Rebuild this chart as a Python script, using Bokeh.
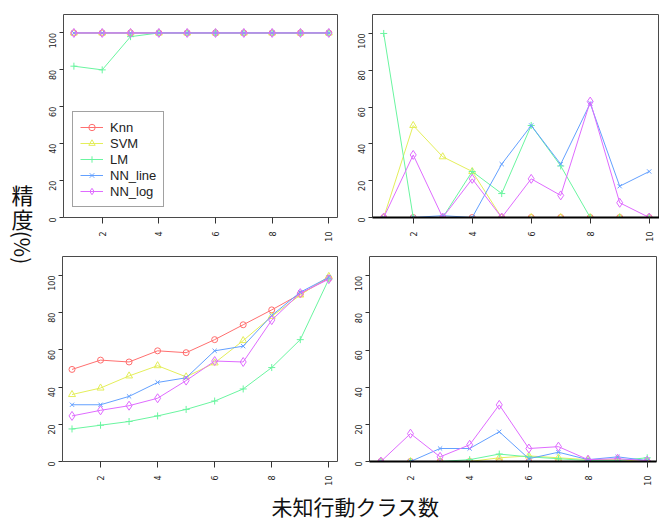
import math
from bokeh.plotting import figure
from bokeh.layouts import row, column
from bokeh.models import Range1d, FixedTicker, Legend, LegendItem
from bokeh.embed import file_html
from bokeh.resources import INLINE
from bokeh.core.properties import value

# ---------------- data ----------------
classes = [1, 2, 3, 4, 5, 6, 7, 8, 9, 10]
methods = ["Knn", "SVM", "LM", "NN_line", "NN_log"]
x_ticks = [2, 4, 6, 8, 10]
y_ticks = [0, 20, 40, 60, 80, 100]
y_title = "精度"
y_unit = "(%)"
x_title = "未知行動クラス数"

# top-left panel
a_knn = [100, 100, 100, 100, 100, 100, 100, 100, 100, 100]
a_svm = [100, 100, 100, 100, 100, 100, 100, 100, 100, 100]
a_lm = [82, 80, 98, 100, 100, 100, 100, 100, 100, 100]
a_nn_line = [100, 100, 100, 100, 100, 100, 100, 100, 100, 100]
a_nn_log = [100, 100, 100, 100, 100, 100, 100, 100, 100, 100]

# top-right panel
b_knn = [0, 0, 0, 0, 0, 0, 0, 0, 0, 0]
b_svm = [0, 50, 33, 25, 0, 0, 0, 0, 0, 0]
b_lm = [100, 0, 0, 25, 13, 50, 28, 0, 0, 0]
b_nn_line = [0, 0, 1, 0, 29, 50, 29, 62, 17, 25]
b_nn_log = [0, 34, 0, 21, 0, 21, 12, 63, 8, 0]

# bottom-left panel
c_knn = [49.5, 54.5, 53.5, 59.5, 58.5, 65.5, 73.5, 81.5, 90, 98.5]
c_svm = [36, 39.5, 46, 51.5, 45.5, 53, 65, 78, 89.5, 99.5]
c_lm = [17.5, 19.5, 21.5, 24.5, 28, 32.5, 39, 50.5, 65.5, 98]
c_nn_line = [30.5, 30.5, 35, 42.5, 45, 59.5, 62, 78.5, 91, 99]
c_nn_log = [24.5, 27.5, 30, 34, 43.5, 54, 53.5, 76, 90.5, 98]

# bottom-right panel
d_knn = [0, 0, 0, 0, 0, 0, 0, 0, 0, 0]
d_svm = [0, 0, 0, 0, 2, 3, 2, 1, 1, 0]
d_lm = [0, 0, 0, 1, 4, 2.5, 1.5, 0.5, 0.5, 2]
d_nn_line = [0, 0, 7, 7, 16, 1.5, 5, 1, 2.5, 0.5]
d_nn_log = [0, 15, 2.5, 9, 30.5, 7, 8, 1, 1.5, 0.5]

# ---------------- styles ----------------
colors = ["#FF6F6F", "#E4EE5A", "#6AF5A0", "#63A0FF", "#DF6BFF"]
markers = [
    dict(marker="circle", size=6),
    dict(marker="triangle", size=7),
    dict(marker="cross", size=7),
    dict(marker="x", size=6),
    dict(marker="diamond", size=9),
]
TICK_FONT = "DejaVu Sans"


def make_panel(series, xr, yr, width, height, borders, black_axis=False, legend=False):
    left, right, top, bottom = borders
    p = figure(width=width, height=height, output_backend="svg", toolbar_location=None,
               x_range=Range1d(*xr), y_range=Range1d(*yr),
               min_border_left=left, min_border_right=right,
               min_border_top=top, min_border_bottom=bottom)
    p.grid.visible = False
    p.background_fill_color = "white"
    p.border_fill_color = "white"
    p.outline_line_color = "#4a4a4a"
    p.outline_line_width = 1

    xa = p.xaxis[0]
    xa.ticker = FixedTicker(ticks=x_ticks)
    xa.major_label_orientation = math.pi / 2
    xa.major_tick_in = 0
    xa.major_tick_out = 6
    xa.minor_tick_line_color = None
    xa.major_tick_line_color = "#333333"
    xa.major_label_standoff = 8
    xa.major_label_text_font = TICK_FONT
    xa.major_label_text_font_size = "8px"
    xa.major_label_text_color = "#222222"
    if black_axis:
        xa.axis_line_color = "black"
        xa.axis_line_width = 2
    else:
        xa.axis_line_color = None

    ya = p.yaxis[0]
    ya.ticker = FixedTicker(ticks=y_ticks)
    ya.major_label_orientation = math.pi / 2
    ya.major_tick_in = 0
    ya.major_tick_out = 4
    ya.minor_tick_line_color = None
    ya.major_tick_line_color = "#333333"
    ya.major_label_standoff = 7
    ya.major_label_text_font = TICK_FONT
    ya.major_label_text_font_size = "8px"
    ya.major_label_text_color = "#222222"
    ya.axis_line_color = None

    items = []
    for name, vals, col, mk in zip(methods, series, colors, markers):
        lr = p.line(classes, vals, line_color=col, line_width=1)
        sr = p.scatter(classes, vals, marker=mk["marker"], size=mk["size"],
                       line_color=col, fill_color=None, line_width=1)
        items.append(LegendItem(label=name, renderers=[lr, sr]))

    if legend:
        lg = Legend(items=items, location=(9, 10))
        lg.label_text_font = "Liberation Sans"
        lg.label_text_font_size = "13px"
        lg.label_text_color = "#222222"
        lg.glyph_width = 23
        lg.glyph_height = 16
        lg.label_height = 16
        lg.label_standoff = 7
        lg.spacing = 0
        lg.padding = 7
        lg.margin = 0
        lg.border_line_color = "#444444"
        lg.border_line_width = 1
        lg.background_fill_color = "white"
        lg.background_fill_alpha = 1
        p.add_layout(lg)
    return p


p1 = make_panel([a_knn, a_svm, a_lm, a_nn_line, a_nn_log], (0.633, 10.307), (0, 110),
                298, 250, (23, 1, 14, 31), legend=True)
p2 = make_panel([b_knn, b_svm, b_lm, b_nn_line, b_nn_log], (0.620, 10.349), (0, 110.3),
                321, 250, (34, 0, 11, 33), black_axis=True)
p3 = make_panel([c_knn, c_svm, c_lm, c_nn_line, c_nn_log], (0.667, 10.34), (0, 110.2),
                298, 238, (22, 0, 6, 26))
p4 = make_panel([d_knn, d_svm, d_lm, d_nn_line, d_nn_log], (0.615, 10.314), (0, 110.4),
                321, 238, (31, 3, 6, 26), black_axis=True)

# y-axis title (vertical Japanese writing)
L = figure(width=40, height=520, output_backend="svg", toolbar_location=None,
           x_range=Range1d(0, 40), y_range=Range1d(520, 0),
           x_axis_type=None, y_axis_type=None,
           min_border_left=0, min_border_right=0, min_border_top=0, min_border_bottom=0)
L.grid.visible = False
L.outline_line_color = None
L.text(x=[22, 22], y=[193, 217], text=[y_title[0], y_title[1]],
       text_font=value("Noto Sans CJK JP"), text_font_size="22px",
       text_align="center", text_baseline="middle", text_color="#111111")
L.text(x=[22], y=[247], text=[y_unit], angle=-math.pi / 2,
       text_font=value("Noto Sans CJK JP"), text_font_size="21px",
       text_align="center", text_baseline="middle", text_color="#111111")

# x-axis title
X = figure(width=619, height=32, output_backend="svg", toolbar_location=None,
           x_range=Range1d(40, 659), y_range=Range1d(520, 488),
           x_axis_type=None, y_axis_type=None,
           min_border_left=0, min_border_right=0, min_border_top=0, min_border_bottom=0)
X.grid.visible = False
X.outline_line_color = None
X.text(x=[355], y=[505], text=[x_title],
       text_font=value("Noto Sans CJK JP"), text_font_size="21px",
       text_align="center", text_baseline="middle", text_color="#111111")

layout = row(L, column(row(p1, p2), row(p3, p4), X))

open("out.html", "w").write(file_html(layout, INLINE, title="chart"))
